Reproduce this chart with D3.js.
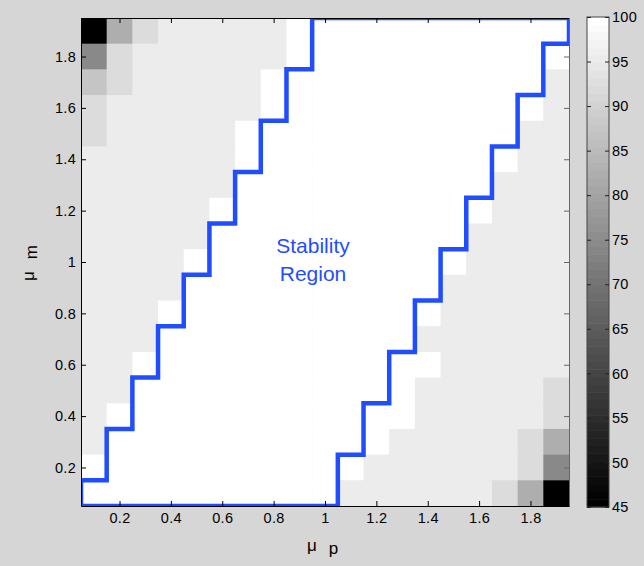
<!DOCTYPE html>
<html>
<head>
<meta charset="utf-8">
<script src="https://cdn.jsdelivr.net/npm/d3@7"></script>
<style>
    body { margin: 0; background: #d6d6d6; }
    text { font-family: "Liberation Sans", Arial, sans-serif; }
</style>
</head>
<body>
<svg id="chart" width="644" height="566"></svg>
<script>
// grid centres (mu_p along x, mu_m along y, rows listed top to bottom)
var muP = [0.1, 0.2, 0.3, 0.4, 0.5, 0.6, 0.7, 0.8, 0.9, 1.0, 1.1, 1.2, 1.3, 1.4, 1.5, 1.6, 1.7, 1.8, 1.9];
var muM = [1.9, 1.8, 1.7, 1.6, 1.5, 1.4, 1.3, 1.2, 1.1, 1.0, 0.9, 0.8, 0.7, 0.6, 0.5, 0.4, 0.3, 0.2, 0.1];
var rate = [
    [45, 82.5, 92.5, 96, 96, 96, 96, 96, 100, 100, 100, 100, 100, 100, 100, 100, 100, 100, 100],
    [74.5, 92.5, 96, 96, 96, 96, 96, 96, 100, 100, 100, 100, 100, 100, 100, 100, 100, 100, 100],
    [87.5, 92.5, 96, 96, 96, 96, 96, 100, 100, 100, 100, 100, 100, 100, 100, 100, 100, 100, 96],
    [92.5, 96, 96, 96, 96, 96, 96, 100, 100, 100, 100, 100, 100, 100, 100, 100, 100, 100, 96],
    [92.5, 96, 96, 96, 96, 96, 100, 100, 100, 100, 100, 100, 100, 100, 100, 100, 100, 96, 96],
    [96, 96, 96, 96, 96, 96, 100, 100, 100, 100, 100, 100, 100, 100, 100, 100, 100, 96, 96],
    [96, 96, 96, 96, 96, 96, 100, 100, 100, 100, 100, 100, 100, 100, 100, 100, 96, 96, 96],
    [96, 96, 96, 96, 96, 100, 100, 100, 100, 100, 100, 100, 100, 100, 100, 100, 96, 96, 96],
    [96, 96, 96, 96, 96, 100, 100, 100, 100, 100, 100, 100, 100, 100, 100, 96, 96, 96, 96],
    [96, 96, 96, 96, 100, 100, 100, 100, 100, 100, 100, 100, 100, 100, 100, 96, 96, 96, 96],
    [96, 96, 96, 96, 100, 100, 100, 100, 100, 100, 100, 100, 100, 100, 96, 96, 96, 96, 96],
    [96, 96, 96, 100, 100, 100, 100, 100, 100, 100, 100, 100, 100, 100, 96, 96, 96, 96, 96],
    [96, 96, 96, 100, 100, 100, 100, 100, 100, 100, 100, 100, 100, 96, 96, 96, 96, 96, 96],
    [96, 96, 100, 100, 100, 100, 100, 100, 100, 100, 100, 100, 100, 100, 96, 96, 96, 96, 96],
    [96, 96, 100, 100, 100, 100, 100, 100, 100, 100, 100, 100, 100, 96, 96, 96, 96, 96, 92.5],
    [96, 100, 100, 100, 100, 100, 100, 100, 100, 100, 100, 100, 100, 96, 96, 96, 96, 96, 92.5],
    [96, 100, 100, 100, 100, 100, 100, 100, 100, 100, 100, 100, 96, 96, 96, 96, 96, 92.5, 82.5],
    [100, 100, 100, 100, 100, 100, 100, 100, 100, 100, 100, 96, 96, 96, 96, 96, 96, 92.5, 74.5],
    [100, 100, 100, 100, 100, 100, 100, 100, 100, 100, 96, 96, 96, 96, 96, 96, 92.5, 82.5, 45]
];
// stability region outline (cell edges)
var regionX = [0.05, 0.05, 0.15, 0.15, 0.25, 0.25, 0.35, 0.35, 0.45, 0.45, 0.55, 0.55, 0.65, 0.65, 0.75, 0.75, 0.85, 0.85, 0.95, 0.95,
    1.95, 1.95, 1.85, 1.85, 1.75, 1.75, 1.65, 1.65, 1.55, 1.55, 1.45, 1.45, 1.35, 1.35, 1.25, 1.25, 1.15, 1.15, 1.05, 1.05];
var regionY = [0.05, 0.15, 0.15, 0.35, 0.35, 0.55, 0.55, 0.75, 0.75, 0.95, 0.95, 1.15, 1.15, 1.35, 1.35, 1.55, 1.55, 1.75, 1.75, 1.95,
    1.95, 1.85, 1.85, 1.65, 1.65, 1.45, 1.45, 1.25, 1.25, 1.05, 1.05, 0.85, 0.85, 0.65, 0.65, 0.45, 0.45, 0.25, 0.25, 0.05];
var axisTicks = [0.2, 0.4, 0.6, 0.8, 1, 1.2, 1.4, 1.6, 1.8];
var barTicks = [45, 50, 55, 60, 65, 70, 75, 80, 85, 90, 95, 100];
var regionLabel = ["Stability", "Region"];

var x0 = 81, x1 = 569, y0 = 18, y1 = 506;
var blue = "#1f4dff";
var svg = d3.select("#chart");

var x = d3.scaleLinear().domain([0.05, 1.95]).range([x0, x1]);
var y = d3.scaleLinear().domain([0.05, 1.95]).range([y1, y0]);
var gray = d3.scaleLinear().domain([45, 100]).range(["#000000", "#ffffff"]);
var fmt = d => String(+d.toFixed(1));

svg.append("defs").append("clipPath").attr("id", "plotclip")
    .append("rect")
    .attr("x", x0).attr("y", y0)
    .attr("width", x1 - x0).attr("height", y1 - y0);

//heatmap cells
var cells = [];
rate.forEach((row, j) => row.forEach((v, i) => cells.push({ p: muP[i], m: muM[j], v: v })));
svg.append("g").selectAll("rect")
    .data(cells)
    .enter()
    .append("rect")
    .attr("x", d => x(d.p - 0.05))
    .attr("y", d => y(d.m + 0.05))
    .attr("width", d => x(d.p + 0.05) - x(d.p - 0.05) + 0.5)
    .attr("height", d => y(d.m - 0.05) - y(d.m + 0.05) + 0.5)
    .attr("fill", d => gray(d.v));

//stability outline
var line = d3.line().x(d => x(d[0])).y(d => y(d[1]));
svg.append("path")
    .attr("clip-path", "url(#plotclip)")
    .attr("d", line(regionX.map((v, i) => [v, regionY[i]])) + "Z")
    .attr("fill", "none")
    .attr("stroke", blue)
    .attr("stroke-width", 4.5)
    .attr("stroke-linejoin", "miter");

svg.append("text")
    .attr("x", 313).attr("y", 253)
    .attr("text-anchor", "middle")
    .attr("font-size", 21)
    .attr("fill", blue)
    .selectAll("tspan")
    .data(regionLabel)
    .enter()
    .append("tspan")
    .attr("x", 313)
    .attr("dy", (d, i) => i ? 28 : 0)
    .text(d => d);

//axes, ticks pointing inward
function styleAxis(g, color) {
    g.select(".domain").attr("stroke", color);
    g.selectAll(".tick line").attr("stroke", color);
    g.selectAll("text").attr("font-size", 14.5).attr("letter-spacing", 0.3).attr("fill", "#000");
}
svg.append("g").attr("transform", `translate(0,${y0})`)
    .call(d3.axisTop(x).tickValues(axisTicks).tickSizeInner(-5).tickSizeOuter(0).tickFormat(""))
    .call(g => styleAxis(g, "#000"));
svg.append("g").attr("transform", `translate(${x1},0)`)
    .call(d3.axisRight(y).tickValues(axisTicks).tickSizeInner(-5).tickSizeOuter(0).tickFormat(""))
    .call(g => styleAxis(g, "#666"));
svg.append("g").attr("transform", `translate(0,${y1})`)
    .call(d3.axisBottom(x).tickValues(axisTicks).tickSizeInner(-5).tickSizeOuter(0).tickPadding(7).tickFormat(fmt))
    .call(g => styleAxis(g, "#000"));
svg.append("g").attr("transform", `translate(${x0},0)`)
    .call(d3.axisLeft(y).tickValues(axisTicks).tickSizeInner(-5).tickSizeOuter(0).tickPadding(5).tickFormat(fmt))
    .call(g => styleAxis(g, "#000"));

//axis labels
var xl = svg.append("text").attr("x", 307).attr("y", 551).attr("font-size", 17);
xl.append("tspan").text("μ");
xl.append("tspan").attr("dx", 12).attr("dy", 3).text("p");
var yl = svg.append("text").attr("transform", "translate(34,281) rotate(-90)").attr("font-size", 17);
yl.append("tspan").text("μ");
yl.append("tspan").attr("dx", 12).attr("dy", 3).text("m");

//colorbar, 64 grey levels
var bl = 587, br = 609;
var c = d3.scaleLinear().domain([45, 100]).range([y1 + 1, y0 - 1]);
var levels = d3.range(64);
svg.append("g").selectAll("rect")
    .data(levels)
    .enter()
    .append("rect")
    .attr("x", bl)
    .attr("width", br - bl)
    .attr("y", d => c(45 + (d + 1) * 55 / 64))
    .attr("height", d => c(45 + d * 55 / 64) - c(45 + (d + 1) * 55 / 64) + 0.5)
    .attr("fill", d => gray(45 + d * 55 / 63));
svg.append("rect")
    .attr("x", bl).attr("y", c(100))
    .attr("width", br - bl).attr("height", c(45) - c(100))
    .attr("fill", "none").attr("stroke", "#444");
svg.append("g").attr("transform", `translate(${br},0)`)
    .call(d3.axisRight(c).tickValues(barTicks).tickSizeInner(-4).tickSizeOuter(0).tickPadding(3))
    .call(g => styleAxis(g, "#222"))
    .call(g => g.select(".domain").remove());
svg.append("g").attr("transform", `translate(${bl},0)`)
    .call(d3.axisLeft(c).tickValues(barTicks).tickSizeInner(-4).tickSizeOuter(0).tickFormat(""))
    .call(g => styleAxis(g, "#222"))
    .call(g => g.select(".domain").remove());
</script>
</body>
</html>
